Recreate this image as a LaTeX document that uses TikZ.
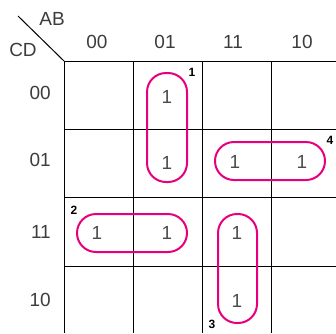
\documentclass[tikz,border=0pt]{standalone}
\usepackage{fontspec}
\setmainfont{Liberation Sans}
\definecolor{loopc}{RGB}{230,0,126}
\definecolor{txt}{RGB}{60,60,60}
\begin{document}
\begin{tikzpicture}[x=1pt,y=-1pt,
  grid/.style={line width=1pt,black},
  lab/.style={inner sep=0pt,text=txt,font=\fontsize{19}{19}\selectfont},
  one/.style={inner sep=0pt,text=black!70,font=\fontsize{19}{19}\selectfont},
  tag/.style={inner sep=0pt,font=\fontsize{12}{12}\selectfont\bfseries},
  grp/.style={draw=loopc,line width=2pt,inner sep=0pt,rounded corners=19pt}]
\useasboundingbox (0,0) rectangle (336,333);
% grid
\coordinate (o) at (64,61);
\coordinate (d) at (18,16);
\coordinate (tr) at (336,61);
\coordinate (bl) at (64,333);
\draw[grid] (d) -- (o);
\draw[grid] (o) -- (tr);
\draw[grid] (o) -- (bl);
\foreach \y in {129,197,266} \draw[grid] (64,\y) -- (336,\y);
\foreach \x in {133,202,271} \draw[grid] (\x,61) -- (\x,333);
% headers
\node[lab] (ab) at (52,19) {AB};
\node[lab] (cd) at (23,50) {CD};
\node[lab] (c00) at (97,42) {00};
\node[lab] (c01) at (165,42) {01};
\node[lab] (c11) at (233,42) {11};
\node[lab] (c10) at (302,42) {10};
\node[lab,anchor=east] (r00) at (51,93) {00};
\node[lab,anchor=east] (r01) at (51,160) {01};
\node[lab,anchor=east] (r11) at (51,232) {11};
\node[lab,anchor=east] (r10) at (51,300) {10};
% ones
\node[one] (m1) at (167,97) {1};
\node[one] (m2) at (167,163) {1};
\node[one] (m3) at (235,162) {1};
\node[one] (m4) at (302,162) {1};
\node[one] (m5) at (97,233) {1};
\node[one] (m6) at (167,233) {1};
\node[one] (m7) at (237,233) {1};
\node[one] (m8) at (237,301) {1};
% groups
\node[grp,minimum width=40pt,minimum height=109pt] (g1) at (167,127.5) {};
\node[grp,minimum width=110pt,minimum height=38pt] (g4) at (270,161) {};
\node[grp,minimum width=110pt,minimum height=38pt] (g2) at (132,233) {};
\node[grp,minimum width=39pt,minimum height=109pt] (g3) at (237.5,268.5) {};
% tags
\node[tag] (t1) at (192,72) {1};
\node[tag] (t4) at (330,140) {4};
\node[tag] (t2) at (74,210) {2};
\node[tag] (t3) at (212,324) {3};
\end{tikzpicture}
\end{document}
